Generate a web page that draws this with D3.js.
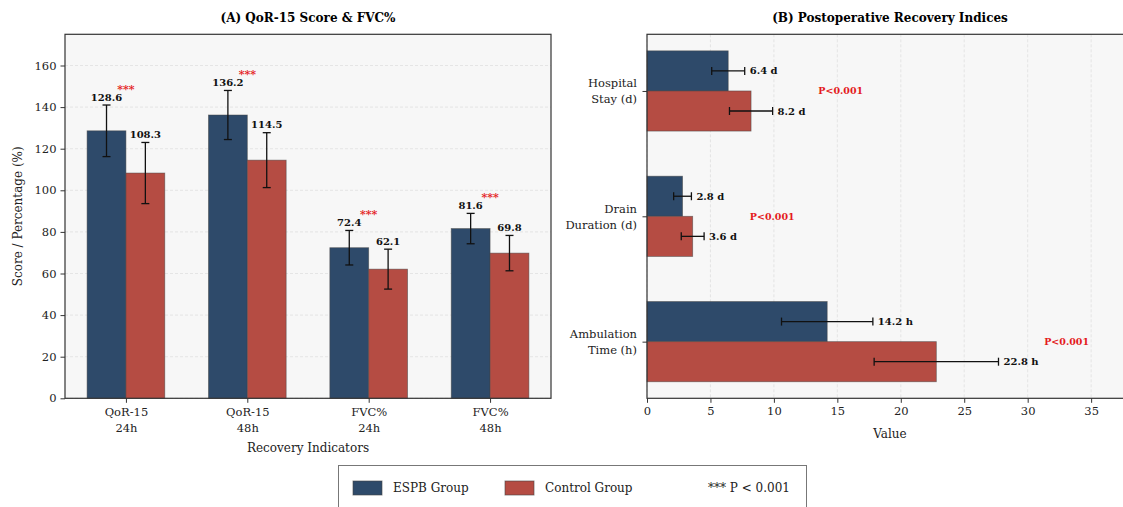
<!DOCTYPE html>
<html>
<head>
<meta charset="utf-8">
<script src="https://cdn.jsdelivr.net/npm/d3@7"></script>
<style>
  body { margin: 0; background: #fff; }
  svg { display: block; font-family: "DejaVu Serif", serif; }
  .tick text { font-size: 11.5px; fill: #222; }
  .tick line { stroke: #333; }
</style>
</head>
<body>
<script>
// left panel data
const leftCats = [["QoR-15", "24h"], ["QoR-15", "48h"], ["FVC%", "24h"], ["FVC%", "48h"]];
const espbLeft = [128.6, 136.2, 72.4, 81.6];
const espbLeftSD = [12.4, 11.8, 8.3, 7.3];
const ctrlLeft = [108.3, 114.5, 62.1, 69.8];
const ctrlLeftSD = [14.7, 13.2, 9.6, 8.5];
const leftTicks = [0, 20, 40, 60, 80, 100, 120, 140, 160];

// right panel data
const rightCats = [["Hospital", "Stay (d)"], ["Drain", "Duration (d)"], ["Ambulation", "Time (h)"]];
const espbRight = [6.4, 2.8, 14.2];
const espbRightSD = [1.3, 0.7, 3.6];
const ctrlRight = [8.2, 3.6, 22.8];
const ctrlRightSD = [1.7, 0.9, 4.9];
const units = ["d", "d", "h"];
const rightTicks = [0, 5, 10, 15, 20, 25, 30, 35];

const W = 1123, H = 507;
const Top = 34.3, Bot = 398.3;
const LL = 65, LR = 551;
const RL = 647, RR = 1133;
const barW = 0.32;
const cBlue = "#2e4a6a";
const cRed = "#b54c43";
const bg = "#f7f7f7";
const serif = "DejaVu Serif";

const svg = d3.select("body").append("svg")
  .attr("width", W)
  .attr("height", H);

// ---------- panel A ----------
const xA = d3.scaleLinear().domain([-0.502, 3.502]).range([LL, LR]);
const yA = d3.scaleLinear().domain([0, 175]).range([Bot, Top]);

const gA = svg.append("g");
gA.append("rect")
  .attr("x", LL).attr("y", Top)
  .attr("width", LR - LL).attr("height", Bot - Top)
  .attr("fill", bg);

gA.selectAll(".grid")
  .data(leftTicks)
  .enter()
  .append("line")
  .attr("x1", LL).attr("x2", LR)
  .attr("y1", d => yA(d)).attr("y2", d => yA(d))
  .attr("stroke", "#dcdcdc")
  .attr("stroke-width", 0.7)
  .attr("stroke-dasharray", "3,2");

function barsA(vals, off, color) {
  gA.selectAll(null)
    .data(vals)
    .enter()
    .append("rect")
    .attr("x", (d, i) => xA(i + off))
    .attr("y", d => yA(d))
    .attr("width", xA(barW) - xA(0))
    .attr("height", d => yA(0) - yA(d))
    .attr("fill", color)
    .attr("stroke", "#444")
    .attr("stroke-opacity", 0.6)
    .attr("stroke-width", 0.8);
}
barsA(espbLeft, -barW, cBlue);
barsA(ctrlLeft, 0, cRed);

function errA(vals, sds, off) {
  vals.forEach((v, i) => {
    const cx = xA(i + off + barW / 2);
    const top = yA(v + sds[i]), bot = yA(v - sds[i]);
    gA.append("line").attr("x1", cx).attr("x2", cx).attr("y1", top).attr("y2", bot)
      .attr("stroke", "#111").attr("stroke-width", 1.3);
    [top, bot].forEach(yy => {
      gA.append("line").attr("x1", cx - 4).attr("x2", cx + 4).attr("y1", yy).attr("y2", yy)
        .attr("stroke", "#111").attr("stroke-width", 1.3);
    });
    gA.append("text")
      .attr("x", cx)
      .attr("y", top - 4.5)
      .attr("text-anchor", "middle")
      .style("font-size", "10px")
      .style("font-weight", "bold")
      .attr("fill", "#111")
      .text(v.toFixed(1));
  });
}
errA(espbLeft, espbLeftSD, -barW);
errA(ctrlLeft, ctrlLeftSD, 0);

// significance stars
leftCats.forEach((c, i) => {
  const m = Math.max(espbLeft[i] + espbLeftSD[i], ctrlLeft[i] + ctrlLeftSD[i]);
  gA.append("text")
    .attr("x", xA(i))
    .attr("y", yA(m) - 12)
    .attr("text-anchor", "middle")
    .style("font-size", "11px")
    .style("font-weight", "bold")
    .attr("fill", "#e41a1c")
    .text("***");
});

gA.append("rect")
  .attr("x", LL).attr("y", Top)
  .attr("width", LR - LL).attr("height", Bot - Top)
  .attr("fill", "none")
  .attr("stroke", "#333")
  .attr("stroke-width", 1.2);

const axA_y = gA.append("g")
  .attr("transform", `translate(${LL},0)`)
  .call(d3.axisLeft(yA).tickValues(leftTicks).tickSize(4.5).tickPadding(4))
  .attr("font-family", serif);
axA_y.select(".domain").remove();

const axA_x = gA.append("g")
  .attr("transform", `translate(0,${Bot})`)
  .call(d3.axisBottom(xA).tickValues([0, 1, 2, 3]).tickSize(4.5).tickPadding(4).tickFormat(""))
  .attr("font-family", serif);
axA_x.select(".domain").remove();
axA_x.selectAll(".tick text")
  .each(function (d) {
    const t = d3.select(this);
    t.attr("dy", null).attr("y", 18);
    leftCats[d].forEach((s, k) => {
      t.append("tspan").attr("x", 0).attr("dy", k === 0 ? 0 : 16).text(s);
    });
  });

svg.append("text")
  .attr("x", (LL + LR) / 2).attr("y", 22)
  .attr("text-anchor", "middle")
  .style("font-size", "12px").style("font-weight", "bold")
  .text("(A) QoR-15 Score & FVC%");

svg.append("text")
  .attr("transform", `translate(22,${(Top + Bot) / 2}) rotate(-90)`)
  .attr("text-anchor", "middle")
  .style("font-size", "12px")
  .attr("fill", "#222")
  .text("Score / Percentage (%)");

svg.append("text")
  .attr("x", (LL + LR) / 2).attr("y", 452)
  .attr("text-anchor", "middle")
  .style("font-size", "12px")
  .attr("fill", "#222")
  .text("Recovery Indicators");

// ---------- panel B ----------
const xB = d3.scaleLinear().domain([0, 38.3]).range([RL, RR]);
const yB = d3.scaleLinear().domain([-0.452, 2.452]).range([Top, Bot]);

const gB = svg.append("g");
gB.append("rect")
  .attr("x", RL).attr("y", Top)
  .attr("width", RR - RL).attr("height", Bot - Top)
  .attr("fill", bg);

gB.selectAll(".grid")
  .data(rightTicks)
  .enter()
  .append("line")
  .attr("y1", Top).attr("y2", Bot)
  .attr("x1", d => xB(d)).attr("x2", d => xB(d))
  .attr("stroke", "#dcdcdc")
  .attr("stroke-width", 0.7)
  .attr("stroke-dasharray", "3,2");

function barsB(vals, off, color) {
  gB.selectAll(null)
    .data(vals)
    .enter()
    .append("rect")
    .attr("y", (d, i) => yB(i + off))
    .attr("x", xB(0))
    .attr("height", yB(barW) - yB(0))
    .attr("width", d => xB(d) - xB(0))
    .attr("fill", color)
    .attr("stroke", "#444")
    .attr("stroke-opacity", 0.6)
    .attr("stroke-width", 0.8);
}
barsB(espbRight, -barW, cBlue);
barsB(ctrlRight, 0, cRed);

function errB(vals, sds, off) {
  vals.forEach((v, i) => {
    const cy = yB(i + off + barW / 2);
    const lo = xB(v - sds[i]), hi = xB(v + sds[i]);
    gB.append("line").attr("x1", lo).attr("x2", hi).attr("y1", cy).attr("y2", cy)
      .attr("stroke", "#111").attr("stroke-width", 1.3);
    [lo, hi].forEach(xx => {
      gB.append("line").attr("x1", xx).attr("x2", xx).attr("y1", cy - 4).attr("y2", cy + 4)
        .attr("stroke", "#111").attr("stroke-width", 1.3);
    });
    gB.append("text")
      .attr("x", hi + 5)
      .attr("y", cy)
      .attr("dy", "0.35em")
      .style("font-size", "10px")
      .style("font-weight", "bold")
      .attr("fill", "#111")
      .text(`${v.toFixed(1)} ${units[i]}`);
  });
}
errB(espbRight, espbRightSD, -barW);
errB(ctrlRight, ctrlRightSD, 0);

rightCats.forEach((c, i) => {
  const m = Math.max(espbRight[i] + espbRightSD[i], ctrlRight[i] + ctrlRightSD[i]);
  gB.append("text")
    .attr("x", xB(m + 3.6))
    .attr("y", yB(i))
    .attr("dy", "0.35em")
    .style("font-size", "9.5px")
    .style("font-weight", "bold")
    .attr("fill", "#e41a1c")
    .text("P<0.001");
});

gB.append("rect")
  .attr("x", RL).attr("y", Top)
  .attr("width", RR - RL).attr("height", Bot - Top)
  .attr("fill", "none")
  .attr("stroke", "#333")
  .attr("stroke-width", 1.2);

const axB_x = gB.append("g")
  .attr("transform", `translate(0,${Bot})`)
  .call(d3.axisBottom(xB).tickValues(rightTicks).tickSize(4.5).tickPadding(4))
  .attr("font-family", serif);
axB_x.select(".domain").remove();

const axB_y = gB.append("g")
  .attr("transform", `translate(${RL},0)`)
  .call(d3.axisLeft(yB).tickValues([0, 1, 2]).tickSize(4.5).tickPadding(4).tickFormat(""))
  .attr("font-family", serif);
axB_y.select(".domain").remove();
axB_y.selectAll(".tick text")
  .each(function (d) {
    const t = d3.select(this);
    t.attr("dy", null).attr("y", -4);
    rightCats[d].forEach((s, k) => {
      t.append("tspan").attr("x", -10).attr("dy", k === 0 ? 0 : 16).text(s);
    });
  });

svg.append("text")
  .attr("x", (RL + RR) / 2).attr("y", 22)
  .attr("text-anchor", "middle")
  .style("font-size", "12px").style("font-weight", "bold")
  .text("(B) Postoperative Recovery Indices");

svg.append("text")
  .attr("x", (RL + RR) / 2).attr("y", 438)
  .attr("text-anchor", "middle")
  .style("font-size", "12px")
  .attr("fill", "#222")
  .text("Value");

// ---------- legend ----------
const lg = svg.append("g");
lg.append("rect")
  .attr("x", 338.5).attr("y", 465.5)
  .attr("width", 468).attr("height", 50)
  .attr("fill", "#fff")
  .attr("stroke", "#777");

const legendItems = [
  { label: "ESPB Group", color: cBlue, x: 353 },
  { label: "Control Group", color: cRed, x: 505 },
  { label: "*** P < 0.001", color: "none", x: 668 }
];
legendItems.forEach(it => {
  lg.append("rect")
    .attr("x", it.x).attr("y", 481)
    .attr("width", 29).attr("height", 14)
    .attr("fill", it.color)
    .attr("stroke", it.color === "none" ? "none" : "#444")
    .attr("stroke-opacity", 0.6);
  lg.append("text")
    .attr("x", it.x + 40).attr("y", 488)
    .attr("dy", "0.35em")
    .style("font-size", "12px")
    .attr("fill", "#222")
    .text(it.label);
});
</script>
</body>
</html>
